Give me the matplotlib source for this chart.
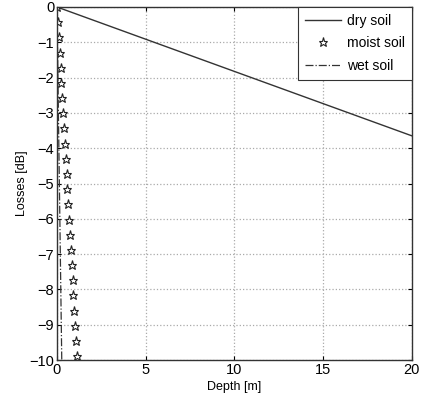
import matplotlib.pyplot as plt

plt.rcParams['font.family'] = ['Liberation Sans', 'DejaVu Sans']

# --- dados ---
dry_depth = [0, 20]
dry_loss = [0, -3.65]

moist_depth = [0.0, 0.05, 0.10, 0.15, 0.20, 0.25, 0.29, 0.34, 0.39, 0.44, 0.49, 0.54,
               0.59, 0.64, 0.69, 0.74, 0.79, 0.84, 0.88, 0.93, 0.98, 1.03, 1.08, 1.13]
moist_loss = [0.0, -0.43, -0.86, -1.29, -1.72, -2.15, -2.58, -3.01, -3.44, -3.87, -4.30, -4.73,
              -5.16, -5.59, -6.02, -6.45, -6.88, -7.31, -7.74, -8.17, -8.60, -9.03, -9.46, -9.89]

wet_depth = [0, 0.27]
wet_loss = [0, -10]

xticks = [0, 5, 10, 15, 20]
yticks = [0, -1, -2, -3, -4, -5, -6, -7, -8, -9, -10]

fig = plt.figure(figsize=(4.22, 4.0), dpi=100)
ax = fig.add_axes([0.135, 0.1, 0.841, 0.8825])

ax.plot(dry_depth, dry_loss, color='#333333', linewidth=1.0, label='dry soil')
ax.plot(moist_depth, moist_loss, linestyle='none', marker='*', markersize=6.5,
        markerfacecolor='white', markeredgecolor='#222222', markeredgewidth=0.8,
        label='moist soil')
ax.plot(wet_depth, wet_loss, color='#333333', linestyle='-.', linewidth=0.9, label='wet soil')

ax.set_xlim(0, 20)
ax.set_ylim(-10, 0)
ax.set_xticks(xticks)
ax.set_yticks(yticks)
ax.tick_params(direction='in', labelsize=10.5, length=3, top=True, right=True, pad=2)
ax.grid(True, color='#aaaaaa', linestyle=':', linewidth=0.9)
for s in ax.spines.values():
    s.set_linewidth(1.0)
    s.set_color('#333333')

ax.set_xlabel('Depth [m]', fontsize=9, labelpad=3)
ax.set_ylabel('Losses [dB]', fontsize=9, labelpad=1)

leg = ax.legend(loc='upper right', fontsize=10, fancybox=False, framealpha=1,
                edgecolor='#333333', borderaxespad=0, handlelength=2.6,
                handletextpad=0.45, labelspacing=0.6, borderpad=0.5)
leg.get_frame().set_linewidth(0.8)

plt.savefig('out.png', dpi=100)
